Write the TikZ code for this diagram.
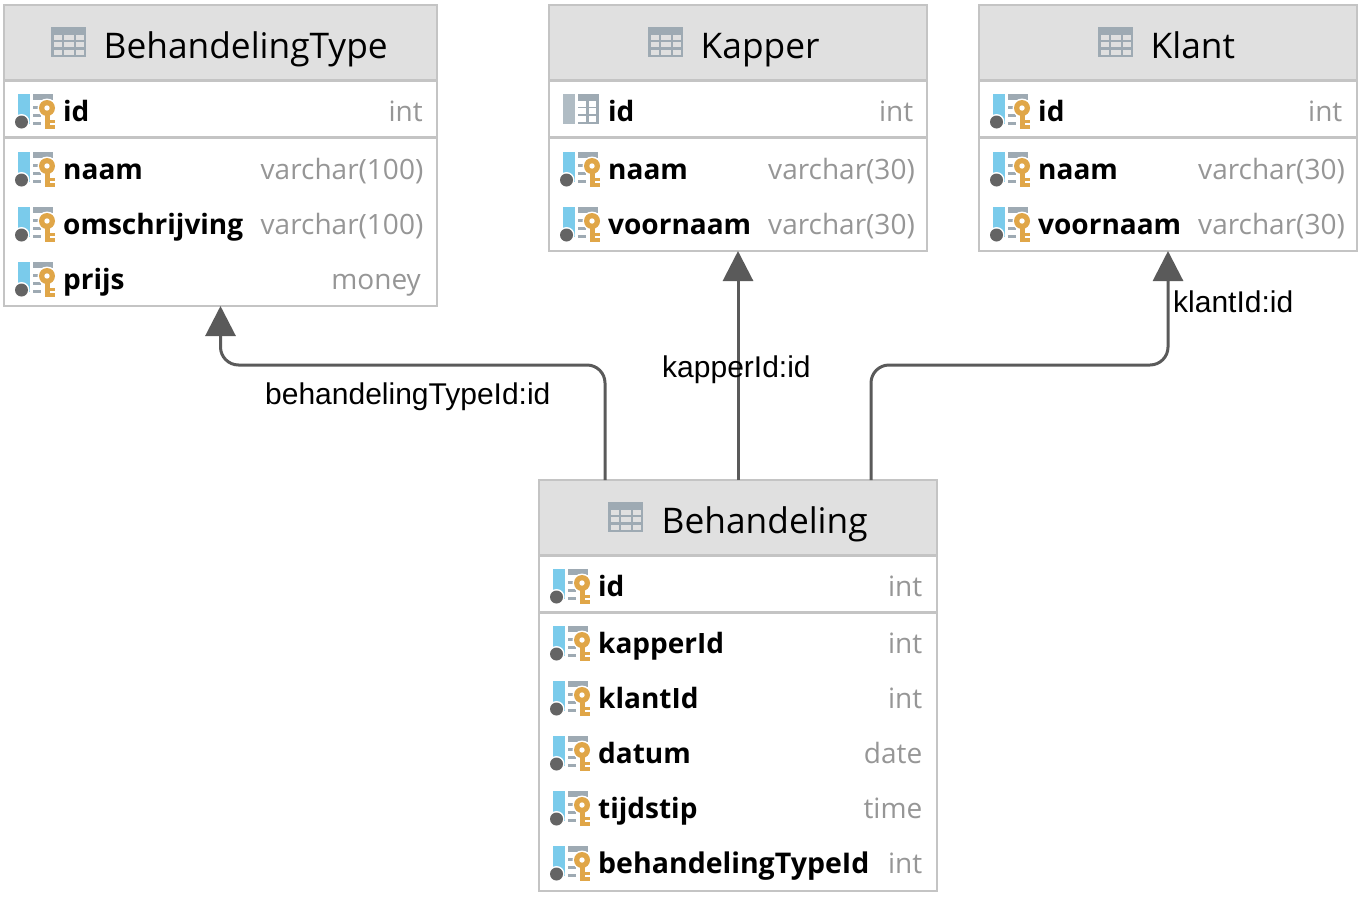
\documentclass[tikz,border=0pt]{standalone}
\usepackage{fontspec}
\setmainfont{Open Sans}
\newfontfamily\labelfont{Liberation Sans}
\usetikzlibrary{arrows.meta, positioning}
\definecolor{headergrey}{RGB}{224,224,224}
\definecolor{bordergrey}{RGB}{196,196,196}
\definecolor{linegrey}{RGB}{90,90,90}
\definecolor{typegrey}{RGB}{150,150,150}
\definecolor{iconblue}{RGB}{122,203,235}
\definecolor{icongrey}{RGB}{158,170,179}
\definecolor{iconpale}{RGB}{176,188,196}
\definecolor{icondot}{RGB}{100,100,100}
\definecolor{keygold}{RGB}{224,166,72}
\tikzset{
tablenode/.style={rectangle, draw=bordergrey, line width=1.5pt, fill=white, inner sep=0pt, outer sep=0pt},
headernode/.style={rectangle, fill=headergrey, draw=bordergrey, line width=2pt, inner sep=0pt, outer sep=0pt, minimum height=75pt},
titlenode/.style={anchor=base west, inner sep=0pt, text=black, font=\fontsize{35.3}{40}\selectfont},
colnode/.style={anchor=base west, inner sep=0pt, text=black, font=\fontsize{28}{32}\selectfont\bfseries},
typenode/.style={anchor=base east, inner sep=0pt, text=typegrey, font=\fontsize{28}{32}\selectfont},
fklabel/.style={anchor=base west, inner sep=0pt, text=black, font=\fontsize{30}{34}\selectfont\labelfont},
fklink/.style={draw=linegrey, line width=3pt, rounded corners=18pt, -{Triangle[length=30pt, width=30pt]}},
rowsep/.style={draw=bordergrey, line width=3pt},
tableicon/.pic={
\fill[icongrey] (0,0) rectangle (35,30);
\foreach \cx/\cw in {3/8, 13/10, 25/8} {
\foreach \cy in {7.5, 15, 22.5} {
\fill[headergrey] (\cx,\cy) rectangle ++(\cw,5);
}
}
},
columnicon/.pic={
\fill[iconblue] (2,0) rectangle (14,30);
\fill[white] (5.5,28) circle (8);
\fill[icondot] (5.5,28) circle (6.5);
\fill[icongrey] (17,0) rectangle (37,6);
\foreach \ly in {13, 21, 29} {
\fill[icongrey] (17,\ly-1.5) rectangle (25,\ly+1.5);
}
\fill[white] (31,14) circle (9.5);
\fill[keygold] (31,14) circle (8);
\fill[white] (31,14) circle (2.7);
\fill[keygold] (28.5,18) rectangle (33.5,34.5);
\fill[keygold] (33,26) rectangle (39,29);
\fill[keygold] (33,31) rectangle (39,34.5);
},
pkicon/.pic={
\fill[iconpale] (2,0) rectangle (14,30);
\fill[icongrey] (17,0) rectangle (38,30);
\foreach \cy in {7, 14, 22} {
\fill[white] (17,\cy) rectangle ++(8,5.5);
\fill[white] (28,\cy) rectangle ++(7,5.5);
}
}
}
\begin{document}
\begin{tikzpicture}[x=1pt, y=-1pt]
\useasboundingbox (0,0) rectangle (1367,900);

% Tables
\node[tablenode, minimum width=433pt, minimum height=301pt] (BehandelingType) at (220.5,155.5) {};
\node[tablenode, minimum width=378pt, minimum height=246pt] (Kapper) at (738,128) {};
\node[tablenode, minimum width=378pt, minimum height=246pt] (Klant) at (1168,128) {};
\node[tablenode, minimum width=398pt, minimum height=411pt] (Behandeling) at (738,685.5) {};

% Headers
\node[headernode, minimum width=433pt, anchor=north] (typeheader) at (BehandelingType.north) {};
\node[headernode, minimum width=378pt, anchor=north] (kapperheader) at (Kapper.north) {};
\node[headernode, minimum width=378pt, anchor=north] (klantheader) at (Klant.north) {};
\node[headernode, minimum width=398pt, anchor=north] (behheader) at (Behandeling.north) {};

\pic at (51,27) {tableicon};
\pic at (648,27) {tableicon};
\pic at (1098,27) {tableicon};
\pic at (608,502) {tableicon};

\node[titlenode] (typetitle) at (103.5,58) {BehandelingType};
\node[titlenode] (kappertitle) at (700.5,58) {Kapper};
\node[titlenode] (klanttitle) at (1150.5,58) {Klant};
\node[titlenode] (behtitle) at (661.5,533) {Behandeling};

% Separators under header and primary key
\foreach \t in {BehandelingType, Kapper, Klant} {
\draw[rowsep] (\t.west |- 0,80) -- (\t.east |- 0,80);
\draw[rowsep] (\t.west |- 0,137) -- (\t.east |- 0,137);
}
\draw[rowsep] (Behandeling.west |- 0,555) -- (Behandeling.east |- 0,555);
\draw[rowsep] (Behandeling.west |- 0,612) -- (Behandeling.east |- 0,612);

% Rows
\foreach \y/\cname/\ctype/\tx in {121/id/int/423, 179/naam/varchar(100)/423.5, 234/omschrijving/varchar(100)/423.5, 289/prijs/money/421} {
\pic at (16,\y-27) {columnicon};
\node[colnode] (type-\cname) at (63,\y) {\cname};
\node[typenode] (type-\cname-type) at (\tx,\y) {\ctype};
}
\foreach \y/\cname/\ctype in {179/naam/varchar(30), 234/voornaam/varchar(30)} {
\pic at (561,\y-27) {columnicon};
\node[colnode] (kapper-\cname) at (608,\y) {\cname};
\node[typenode] (kapper-\cname-type) at (915,\y) {\ctype};
}
\pic at (561,94) {pkicon};
\node[colnode] (kapper-id) at (608,121) {id};
\node[typenode] (kapper-id-type) at (913.5,121) {int};
\foreach \y/\cname/\ctype/\tx in {121/id/int/1342.5, 179/naam/varchar(30)/1345, 234/voornaam/varchar(30)/1345} {
\pic at (991,\y-27) {columnicon};
\node[colnode] (klant-\cname) at (1038,\y) {\cname};
\node[typenode] (klant-\cname-type) at (\tx,\y) {\ctype};
}
\foreach \y/\cname/\ctype in {596/id/int, 653/kapperId/int, 708/klantId/int, 763/datum/date, 818/tijdstip/time} {
\pic at (551,\y-27) {columnicon};
\node[colnode] (beh-\cname) at (598,\y) {\cname};
\node[typenode] (beh-\cname-type) at (922.5,\y) {\ctype};
}
\pic at (551,846) {columnicon};
\node[colnode, font=\fontsize{28.5}{32}\selectfont\bfseries] (beh-behandelingTypeId) at (598,873) {behandelingTypeId};
\node[typenode] (beh-behandelingTypeId-type) at (922.5,873) {int};

% Foreign keys
\coordinate (lane) at (0,365);
\draw[fklink] ([xshift=-133pt]Behandeling.north) -- ([xshift=-133pt]Behandeling.north |- lane) -- (BehandelingType.south |- lane) -- (BehandelingType.south);
\draw[fklink] (Behandeling.north) -- (Kapper.south);
\draw[fklink] ([xshift=133pt]Behandeling.north) -- ([xshift=133pt]Behandeling.north |- lane) -- (Klant.south |- lane) -- (Klant.south);

\node[fklabel] (typelabel) at (265,404) {behandelingTypeId:id};
\node[fklabel] (kapperlabel) at (662,377) {kapperId:id};
\node[fklabel] (klantlabel) at (1173,312) {klantId:id};
\end{tikzpicture}
\end{document}
